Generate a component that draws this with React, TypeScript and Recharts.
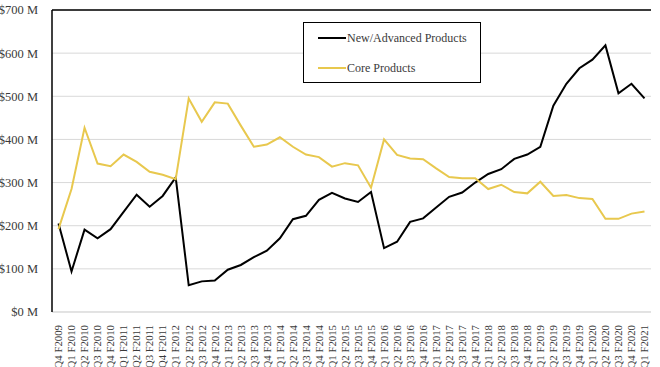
import {
  LineChart,
  Line,
  XAxis,
  YAxis,
  CartesianGrid,
  ReferenceLine,
} from "recharts";

const quarters = [
  "Q4 F2009",
  "Q1 F2010", "Q2 F2010", "Q3 F2010", "Q4 F2010",
  "Q1 F2011", "Q2 F2011", "Q3 F2011", "Q4 F2011",
  "Q1 F2012", "Q2 F2012", "Q3 F2012", "Q4 F2012",
  "Q1 F2013", "Q2 F2013", "Q3 F2013", "Q4 F2013",
  "Q1 F2014", "Q2 F2014", "Q3 F2014", "Q4 F2014",
  "Q1 F2015", "Q2 F2015", "Q3 F2015", "Q4 F2015",
  "Q1 F2016", "Q2 F2016", "Q3 F2016", "Q4 F2016",
  "Q1 F2017", "Q2 F2017", "Q3 F2017", "Q4 F2017",
  "Q1 F2018", "Q2 F2018", "Q3 F2018", "Q4 F2018",
  "Q1 F2019", "Q2 F2019", "Q3 F2019", "Q4 F2019",
  "Q1 F2020", "Q2 F2020", "Q3 F2020", "Q4 F2020",
  "Q1 F2021",
];

// $M per quarter
const newAdvanced = [
  205, 94, 191, 171, 192, 232, 272, 244, 269, 312,
  62, 71, 73, 98, 109, 127, 142, 171, 215, 223,
  260, 276, 263, 255, 278, 148, 163, 209, 217, 242,
  267, 277, 300, 320, 331, 355, 365, 383, 478, 529,
  565, 585, 618, 507, 529, 495,
];

const coreProducts = [
  192, 285, 427, 344, 338, 365, 348, 325, 318, 308,
  495, 441, 486, 483, 432, 383, 388, 405, 383, 365,
  359, 337, 345, 340, 288, 400, 364, 356, 354, 333,
  313, 310, 310, 285, 295, 278, 275, 302, 269, 271,
  264, 262, 216, 216, 228, 233,
];

const yTicks = [0, 100, 200, 300, 400, 500, 600, 700];

const FONT = "'Liberation Serif', 'DejaVu Serif', serif";
const YELLOW = "#E8C84E";
const TEXT = "#3a3a3a";

const data = quarters.map((q, i) => ({
  label: q,
  newAdv: newAdvanced[i],
  core: coreProducts[i],
}));

const QuarterTick = ({ x, y, payload }: any) => (
  <g transform={`translate(${x},${y})`}>
    <text
      transform="rotate(-90)"
      x={-5}
      y={0}
      dy="0.35em"
      textAnchor="end"
      fontSize={10.8}
      fontFamily={FONT}
      fill={TEXT}
    >
      {payload.value}
    </text>
  </g>
);

const legendRows = [
  { name: "New/Advanced Products", color: "#000" },
  { name: "Core Products", color: YELLOW },
];

const LegendBox = () => (
  <div
    style={{
      position: "absolute",
      left: 303,
      top: 22,
      width: 176,
      height: 59,
      border: "1px solid #000",
      background: "#fff",
      fontFamily: FONT,
      fontSize: 12,
      color: TEXT,
    }}
  >
    {legendRows.map((r, i) => (
      <div
        key={r.name}
        style={{
          position: "absolute",
          left: 14,
          top: 8 + i * 30,
          display: "flex",
          alignItems: "center",
          height: 14,
          whiteSpace: "nowrap",
        }}
      >
        <span
          style={{
            display: "inline-block",
            width: 28,
            height: 2,
            background: r.color,
            marginRight: 1,
          }}
        />
        {r.name}
      </div>
    ))}
  </div>
);

export default function App() {
  return (
    <div
      style={{
        position: "absolute",
        left: 0,
        top: 0,
        width: 660,
        height: 367,
        background: "#fff",
      }}
    >
      <LineChart
        width={660}
        height={367}
        data={data}
        margin={{ top: 10, right: 9, left: 0, bottom: 0 }}
      >
        <CartesianGrid vertical={false} stroke="#d9d9d9" />
        <XAxis
          dataKey="label"
          interval={0}
          height={55}
          padding={{ left: 6.5, right: 6.5 }}
          tick={<QuarterTick />}
          tickLine={false}
          axisLine={{ stroke: "#d9d9d9" }}
        />
        <YAxis
          domain={[0, 700]}
          ticks={yTicks}
          width={52}
          tickLine={false}
          axisLine={{ stroke: "#000", strokeWidth: 1.5 }}
          tickMargin={8}
          tickFormatter={(v: number) => `$${v} M`}
          tick={{ fontSize: 12.5, fontFamily: FONT, fill: TEXT }}
        />
        <YAxis
          yAxisId="right"
          orientation="right"
          width={0}
          tick={false}
          tickLine={false}
          axisLine={{ stroke: "#000", strokeWidth: 1.5 }}
        />
        <ReferenceLine y={700} stroke="#000" strokeWidth={1.5} />
        <Line
          dataKey="newAdv"
          name="New/Advanced Products"
          stroke="#000"
          strokeWidth={2}
          dot={false}
          type="linear"
          isAnimationActive={false}
        />
        <Line
          dataKey="core"
          name="Core Products"
          stroke={YELLOW}
          strokeWidth={2}
          dot={false}
          type="linear"
          isAnimationActive={false}
        />
      </LineChart>
      <LegendBox />
    </div>
  );
}
